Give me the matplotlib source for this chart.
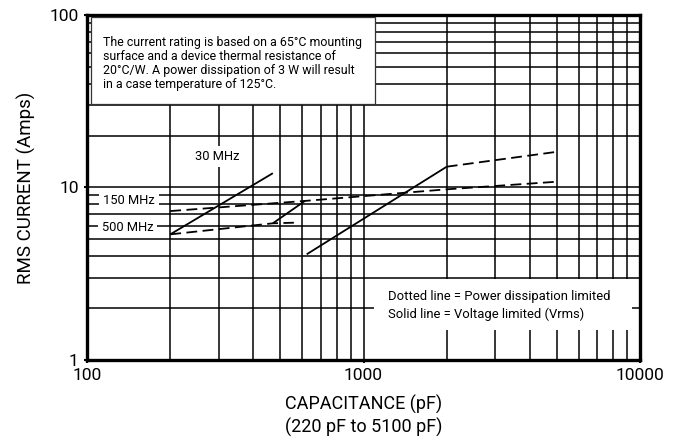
import matplotlib

matplotlib.use("Agg")
import matplotlib.pyplot as plt  # noqa: E402
from matplotlib.patches import Rectangle  # noqa: E402
from matplotlib.ticker import FuncFormatter, LogLocator, NullFormatter  # noqa: E402

plt.rcParams["font.family"] = ["Roboto", "DejaVu Sans"]

# Capacitance (pF) / RMS current (A)
cap_solid_30 = [200, 470]
amp_solid_30 = [5.35, 12.1]
cap_solid_150 = [470, 614]
amp_solid_150 = [6.2, 8.36]
cap_solid_big = [623, 2000]
amp_solid_big = [4.1, 13.2]

cap_dash_150 = [200, 614, 2000, 5000]
amp_dash_150 = [7.3, 8.36, 9.76, 10.8]
cap_dash_500 = [200, 470, 560]
amp_dash_500 = [5.35, 6.2, 6.25]
cap_dash_big = [2000, 5000]
amp_dash_big = [13.2, 16.1]

freq_labels = ["30 MHz", "150 MHz", "500 MHz"]
freq_label_cap = [295, 142, 140]
freq_label_amp = [15.2, 8.46, 5.9]

note_text = (
    "The current rating is based on a 65°C mounting\n"
    "surface and a device thermal resistance of\n"
    "20°C/W. A power dissipation of 3 W will result\n"
    "in a case temperature of 125°C."
)
legend_text = "Dotted line = Power dissipation limited\nSolid line = Voltage limited (Vrms)"

fig = plt.figure(figsize=(6.81, 4.42), dpi=100)
ax = fig.add_axes([0.1278, 0.1855, 0.812, 0.7806])

ax.set_xscale("log")
ax.set_yscale("log")
ax.set_xlim(100, 10000)
ax.set_ylim(1, 100)

ax.xaxis.set_minor_locator(LogLocator(base=10, subs=range(2, 10)))
ax.yaxis.set_minor_locator(LogLocator(base=10, subs=range(2, 10)))
ax.xaxis.set_minor_formatter(NullFormatter())
ax.yaxis.set_minor_formatter(NullFormatter())
fmt = FuncFormatter(lambda v, _: f"{v:g}")
ax.xaxis.set_major_formatter(fmt)
ax.yaxis.set_major_formatter(fmt)
ax.grid(which="both", color="black", lw=1.1, zorder=1)
ax.set_axisbelow(True)
ax.tick_params(which="major", length=2, width=1.5, labelsize=12.5, pad=4)
ax.tick_params(which="minor", length=0)
for sp in ax.spines.values():
    sp.set_linewidth(2.4)

# curves
solid = dict(color="black", lw=1.3, zorder=4, solid_capstyle="butt")
dashed = dict(color="black", lw=1.3, zorder=4, linestyle=(0, (6, 3)))
ax.plot(cap_solid_30, amp_solid_30, **solid)
ax.plot(cap_solid_150, amp_solid_150, **solid)
ax.plot(cap_solid_big, amp_solid_big, **solid)
ax.plot(cap_dash_150, amp_dash_150, **dashed)
ax.plot(cap_dash_500, amp_dash_500, **dashed)
ax.plot(cap_dash_big, amp_dash_big, **dashed)

for lab, c, a in zip(freq_labels, freq_label_cap, freq_label_amp):
    ax.text(c, a, lab, fontsize=9.3, ha="center", va="center", zorder=5,
            bbox=dict(boxstyle="square,pad=0.3", fc="white", ec="none"))

# note box, top left
ax.add_patch(Rectangle((0.007, 0.742), 0.514, 0.252, transform=ax.transAxes,
                       fc="white", ec="#333333", lw=0.9, zorder=3))
ax.text(0.029, 0.859, note_text, transform=ax.transAxes, fontsize=8.9,
        ha="left", va="center", linespacing=1.11, zorder=5)

# legend box, bottom right
ax.add_patch(Rectangle((0.519, 0.087), 0.467, 0.148, transform=ax.transAxes,
                       fc="white", ec="none", zorder=3))
ax.text(0.544, 0.158, legend_text, transform=ax.transAxes, fontsize=9.4,
        ha="left", va="center", linespacing=1.46, zorder=5)

ax.set_ylabel("RMS CURRENT (Amps)", fontsize=13.5, labelpad=10)
ax.set_xlabel("CAPACITANCE (pF)\n(220 pF to 5100 pF)", fontsize=13, labelpad=8,
              linespacing=1.25)

fig.savefig("out.png", dpi=100)
